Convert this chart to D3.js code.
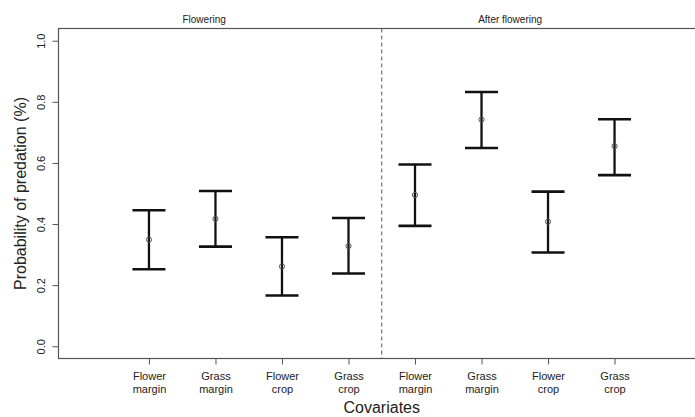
<!DOCTYPE html>
<html>
<head>
<meta charset="utf-8">
<script src="https://cdn.jsdelivr.net/npm/d3@7"></script>
<style>
  html, body { margin: 0; padding: 0; background: #fff; }
  svg { display: block; font-family: "Liberation Sans", Arial, Helvetica, sans-serif; }
</style>
</head>
<body>
<svg id="chart" width="695" height="417"></svg>
<script>
// ---- data ----
const categories = ["Flower margin", "Grass margin", "Flower crop", "Grass crop",
                    "Flower margin", "Grass margin", "Flower crop", "Grass crop"];
const periods = ["Flowering", "After flowering"];
const means = [0.349, 0.417, 0.261, 0.328, 0.495, 0.742, 0.408, 0.655];
const lower = [0.252, 0.326, 0.166, 0.238, 0.394, 0.649, 0.307, 0.560];
const upper = [0.445, 0.508, 0.357, 0.420, 0.595, 0.832, 0.506, 0.743];
const yTicks = [0.0, 0.2, 0.4, 0.6, 0.8, 1.0];

// ---- layout ----
const svg = d3.select("#chart");

const x = d3.scaleLinear().domain([-0.36, 9.36]).range([58.5, 705]);
const y = d3.scaleLinear().domain([-0.04, 1.04]).range([358.5, 28.5]);

const axisColor = "#555";
const textColor = "#222";

// box (right side off-canvas)
svg.append("rect")
  .attr("x", x.range()[0]).attr("y", y.range()[1])
  .attr("width", x.range()[1] - x.range()[0])
  .attr("height", y.range()[0] - y.range()[1])
  .attr("fill", "none").attr("stroke", axisColor).attr("stroke-width", 1.2);

// y axis
const yAxis = d3.axisLeft(y).tickValues(yTicks).tickFormat(d3.format(".1f")).tickSize(6).tickSizeOuter(0);
const gy = svg.append("g").attr("transform", `translate(${x.range()[0]},0)`).call(yAxis);
gy.select(".domain").remove();
gy.selectAll(".tick line").attr("stroke", axisColor);
gy.selectAll(".tick text")
  .attr("fill", textColor).attr("font-size", 11)
  .attr("transform", "rotate(-90)")
  .attr("x", 0).attr("y", -14).attr("dy", 0)
  .attr("text-anchor", "middle");

// x axis
const idx = d3.range(1, categories.length + 1);
const xAxis = d3.axisBottom(x).tickValues(idx).tickFormat("").tickSize(6).tickSizeOuter(0);
const gx = svg.append("g").attr("transform", `translate(0,${y.range()[0]})`).call(xAxis);
gx.select(".domain").remove();
gx.selectAll(".tick line").attr("stroke", axisColor);
gx.selectAll(".tick").each(function(d) {
  const words = categories[d - 1].split(" ");
  const t = d3.select(this).append("text")
    .attr("fill", textColor).attr("font-size", 11).attr("text-anchor", "middle");
  words.forEach((w, i) => {
    t.append("tspan").attr("x", 0).attr("y", 21 + i * 13.7).text(w);
  });
});

// axis titles
svg.append("text")
  .attr("x", (x.range()[0] + x.range()[1]) / 2).attr("y", 413)
  .attr("text-anchor", "middle").attr("font-size", 16).attr("fill", textColor)
  .text("Covariates");
svg.append("text")
  .attr("transform", `translate(26,${(y.range()[0] + y.range()[1]) / 2}) rotate(-90)`)
  .attr("text-anchor", "middle").attr("font-size", 16).attr("fill", textColor)
  .text("Probability of predation (%)");

// period labels
const periodPos = [1.83, 6.43];
svg.selectAll(".period").data(periods).enter().append("text")
  .attr("x", (d, i) => x(periodPos[i])).attr("y", 22.5)
  .attr("text-anchor", "middle").attr("font-size", 10).attr("fill", textColor)
  .text(d => d);

// dashed divider
svg.append("line")
  .attr("x1", x(4.5)).attr("x2", x(4.5))
  .attr("y1", y.range()[1]).attr("y2", y.range()[0])
  .attr("stroke", axisColor).attr("stroke-width", 1).attr("stroke-dasharray", "4,3");

// error bars
const capHalf = 16.5;
const g = svg.append("g");
idx.forEach((d, i) => {
  const cx = x(d);
  g.append("line").attr("x1", cx).attr("x2", cx).attr("y1", y(lower[i])).attr("y2", y(upper[i]))
    .attr("stroke", "#111").attr("stroke-width", 2.3);
  [lower[i], upper[i]].forEach(v => {
    g.append("line").attr("x1", cx - capHalf).attr("x2", cx + capHalf)
      .attr("y1", y(v)).attr("y2", y(v))
      .attr("stroke", "#111").attr("stroke-width", 2.6);
  });
  g.append("circle").attr("cx", cx).attr("cy", y(means[i])).attr("r", 2.6)
    .attr("fill", "none").attr("stroke", "#555").attr("stroke-width", 1);
});
</script>
</body>
</html>
